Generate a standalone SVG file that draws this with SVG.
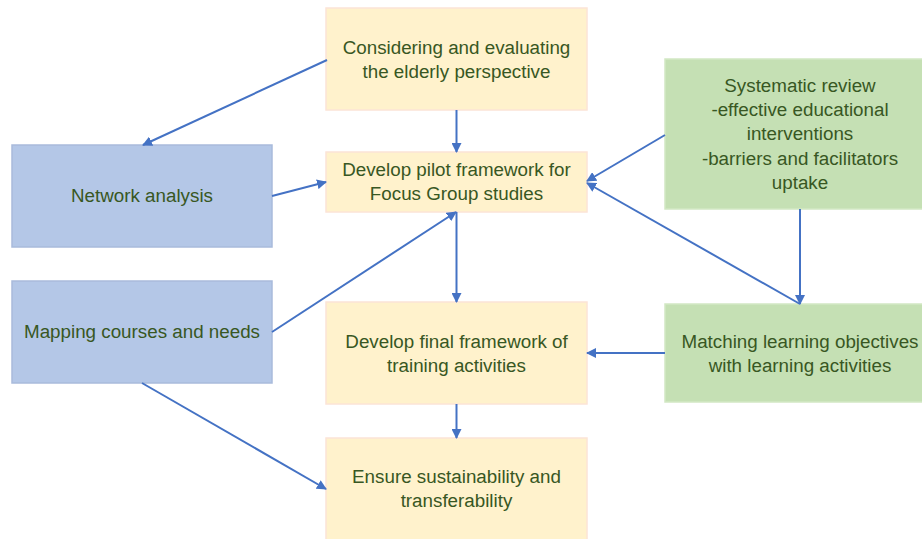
<svg xmlns="http://www.w3.org/2000/svg" width="922" height="539" viewBox="0 0 922 539">
<defs>
<style>
.y{fill:#fff2cc;stroke:#fce4d6;stroke-width:1.5}
.b{fill:#b4c7e7;stroke:#a9bbdb;stroke-width:1.5}
.g{fill:#c5e0b4;stroke:#d2e8c4;stroke-width:1.5}
text{font-family:"Liberation Sans",Arial,sans-serif;font-size:18.8px;fill:#385723;text-anchor:middle}
.c line{stroke:#4472c4;stroke-width:2;marker-end:url(#ah)}
</style>
<marker id="ah" viewBox="0 0 10 10" refX="9" refY="5" markerWidth="5" markerHeight="5" orient="auto" markerUnits="strokeWidth">
<path d="M0,0 L10,5 L0,10 z" fill="#4472c4"/>
</marker>
</defs>
<rect width="922" height="539" fill="#ffffff"/>
<g id="n-considering"><rect class="y" x="326" y="8" width="261" height="102"/><text x="456.5" y="54">Considering and evaluating</text><text x="456.5" y="78">the elderly perspective</text></g>
<g id="n-pilot"><rect class="y" x="326" y="152" width="261" height="60"/><text x="456.5" y="176">Develop pilot framework for</text><text x="456.5" y="200">Focus Group studies</text></g>
<g id="n-final"><rect class="y" x="326" y="302" width="261" height="102"/><text x="456.5" y="348">Develop final framework of</text><text x="456.5" y="372">training activities</text></g>
<g id="n-ensure"><rect class="y" x="326" y="438" width="261" height="104"/><text x="456.5" y="483">Ensure sustainability and</text><text x="456.5" y="507">transferability</text></g>
<g id="n-network"><rect class="b" x="12" y="145" width="260" height="102"/><text x="142" y="202">Network analysis</text></g>
<g id="n-mapping"><rect class="b" x="12" y="281" width="260" height="102"/><text x="142" y="338">Mapping courses and needs</text></g>
<g id="n-systematic"><rect class="g" x="665" y="59" width="272" height="150"/><text x="800" y="92">Systematic review</text><text x="800" y="116">-effective educational</text><text x="800" y="140">interventions</text><text x="800" y="165">-barriers and facilitators</text><text x="800" y="189">uptake</text></g>
<g id="n-matching"><rect class="g" x="665" y="304" width="272" height="98"/><text x="800" y="348">Matching learning objectives</text><text x="800" y="372">with learning activities</text></g>
<g class="c" id="connectors">
<line x1="327" y1="60" x2="143" y2="145"/>
<line x1="456.5" y1="110" x2="456.5" y2="152"/>
<line x1="272" y1="196" x2="326" y2="182"/>
<line x1="272" y1="332" x2="456" y2="212"/>
<line x1="456.5" y1="212" x2="456.5" y2="302"/>
<line x1="456.5" y1="404" x2="456.5" y2="438"/>
<line x1="142" y1="383" x2="326" y2="489"/>
<line x1="665" y1="135" x2="587" y2="181"/>
<line x1="800" y1="304" x2="587" y2="183"/>
<line x1="800" y1="209" x2="800" y2="304"/>
<line x1="665" y1="353" x2="587" y2="353"/>
</g>
</svg>
